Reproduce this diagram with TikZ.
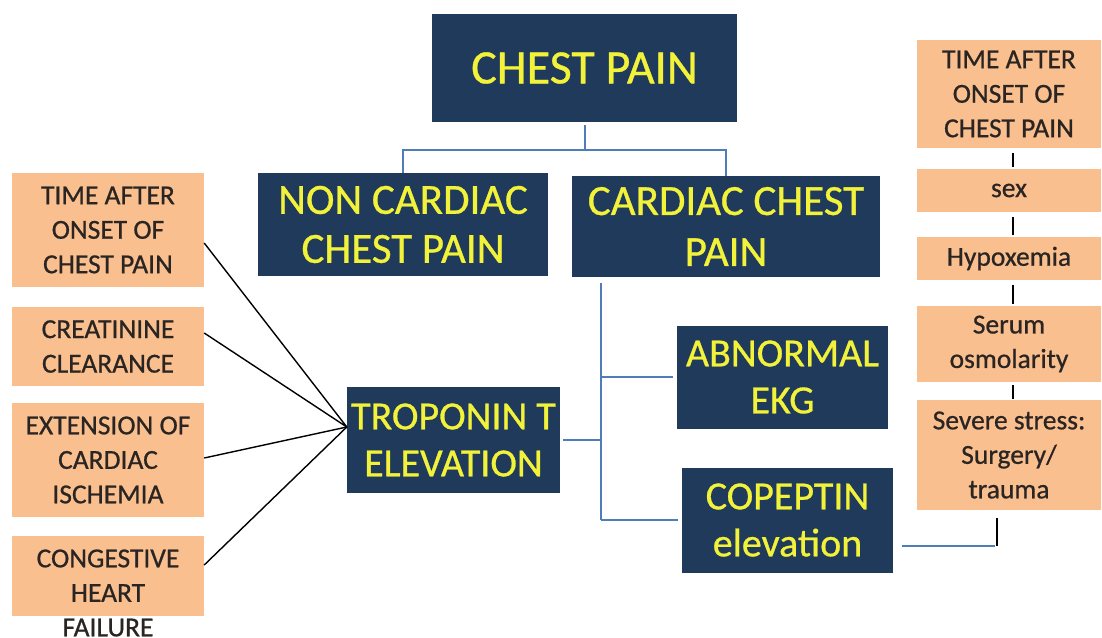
\documentclass[tikz,border=0pt]{standalone}
\usepackage{fontspec}
\setmainfont{Carlito}
\newfontfamily\heavyfont{Carlito}[FakeBold=0.7]
\usetikzlibrary{calc}
\definecolor{navy}{HTML}{1F3A5A}
\definecolor{yel}{HTML}{F2F23A}
\definecolor{peach}{HTML}{F9BF8F}
\definecolor{dtext}{HTML}{2A2522}
\definecolor{bline}{HTML}{4F7DB8}
\tikzset{
  dbox/.style={fill=navy, text=yel, align=center, inner sep=0pt, font=\heavyfont\fontsize{40}{47}\selectfont},
  obox/.style={fill=peach, text=dtext, align=center, inner sep=0pt, font=\heavyfont\fontsize{27.5}{34.5}\selectfont},
  otext/.style={text=dtext, align=center, inner sep=0pt, font=\heavyfont\fontsize{27.5}{34.5}\selectfont},
  bl/.style={draw=bline, line width=2pt},
  blk/.style={draw=black, line width=1.4pt},
}
\begin{document}
\begin{tikzpicture}[x=1pt,y=-1pt]
\clip (0,0) rectangle (1102,637);
\fill[white] (0,0) rectangle (1102,637);
% dark boxes
\node[dbox, minimum width=305, minimum height=108, font=\heavyfont\fontsize{48}{56}\selectfont] (chest) at (584.5,68) {CHEST PAIN};
\node[dbox, minimum width=290, minimum height=103, font=\heavyfont\fontsize{43}{49}\selectfont] (noncard) at (403,224.5) {NON CARDIAC\\CHEST PAIN};
\node[dbox, minimum width=308, minimum height=101, font=\heavyfont\fontsize{43}{51}\selectfont] (card) at (726,226.5) {CARDIAC CHEST\\PAIN};
\node[dbox, minimum width=211, minimum height=103] (abn) at (782.5,377) {ABNORMAL\\EKG};
\node[dbox, minimum width=211, minimum height=105] (cop) at (787.5,520) {COPEPTIN\\elevation};
\node[dbox, minimum width=213, minimum height=106] (trop) at (453.5,440) {TROPONIN T\\ELEVATION};
% left peach boxes
\node[obox, minimum width=192, minimum height=114] (l1) at (108,230) {TIME AFTER\\ONSET OF\\CHEST PAIN};
\node[obox, minimum width=192, minimum height=79] (l2) at (108,346.5) {CREATININE\\CLEARANCE};
\node[obox, minimum width=192, minimum height=114] (l3) at (108,460) {EXTENSION OF\\CARDIAC\\ISCHEMIA};
\node[obox, minimum width=192, minimum height=80] (l4) at (108,576) {};
\node[otext] (l4t) at (108,593) {CONGESTIVE\\HEART\\FAILURE};
% right peach boxes
\node[obox, minimum width=184, minimum height=108] (r1) at (1009,94) {TIME AFTER\\ONSET OF\\CHEST PAIN};
\node[obox, minimum width=184, minimum height=43] (r2) at (1009,190.5) {sex};
\node[obox, minimum width=184, minimum height=43] (r3) at (1009,258.5) {Hypoxemia};
\node[obox, minimum width=184, minimum height=76] (r4) at (1009,344) {Serum\\osmolarity};
\node[obox, minimum width=184, minimum height=110] (r5) at (1009,455) {Severe stress:\\Surgery/\\trauma};
% top tree
\coordinate (hb) at (584.5,150);
\draw[bl] ([yshift=-3pt]chest.south) -- (hb);
\draw[bl] (noncard.north) |- (hb) -| (card.north);
% cardiac tree
\coordinate (vt) at (601,283);
\coordinate (vb) at (601,520);
\draw[bl] (vt) -- (vb);
\draw[bl] (vt |- abn.west) -- ([xshift=-4pt]abn.west);
\draw[bl] (vb) -- ([xshift=-4pt]cop.west);
\draw[bl] ([xshift=3pt]trop.east) -- (trop.east -| vt);
% left connectors
\coordinate (tp) at ([yshift=13pt]trop.west);
\draw[blk] ([yshift=-13pt]l1.east) -- (tp);
\draw[blk] ([yshift=13.5pt]l2.east) -- (tp);
\draw[blk] ([yshift=2pt]l3.east) -- (tp);
\draw[blk] ([yshift=11pt]l4.east) -- (tp);
% right column connectors
\draw[blk] ([xshift=4pt,yshift=-5pt]r1.south) -- ([xshift=4pt,yshift=2pt]r2.north);
\draw[blk] ([xshift=4pt,yshift=-5pt]r2.south) -- ([xshift=4pt,yshift=2pt]r3.north);
\draw[blk] ([xshift=4pt,yshift=-5pt]r3.south) -- ([xshift=4pt,yshift=2pt]r4.north);
\draw[blk] ([xshift=4pt,yshift=-3pt]r4.south) -- ([xshift=4pt,yshift=1pt]r5.north);
\coordinate (j) at (997,546);
\draw[blk] ([yshift=-8pt]r5.south -| j) -- (j);
\draw[bl] ([xshift=9pt]cop.east |- j) -- ([xshift=-2pt]j);
\end{tikzpicture}
\end{document}
